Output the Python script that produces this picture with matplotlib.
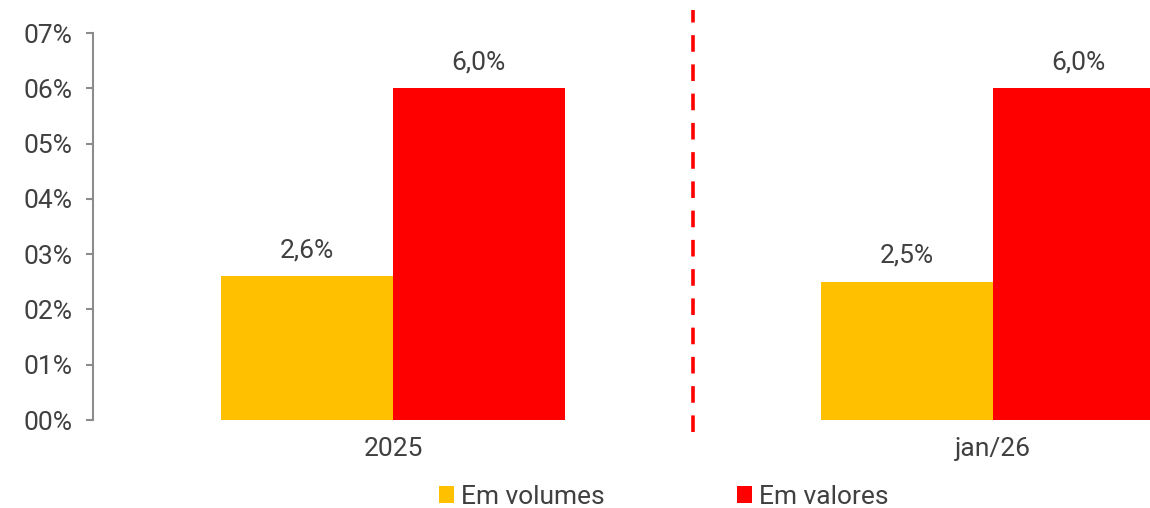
import matplotlib.pyplot as plt
import numpy as np
from matplotlib.patches import Patch
from matplotlib.ticker import FuncFormatter, MultipleLocator

plt.rcParams["font.family"] = ["Roboto", "DejaVu Sans"]

# -----------------------------------------------------------------------------
# Data
# -----------------------------------------------------------------------------
categories = ["2025", "jan/26"]
series_names = ["Em volumes", "Em valores"]
volumes = [2.6, 2.5]
valores = [6.0, 6.0]
volume_labels = ["2,6%", "2,5%"]
valor_labels = ["6,0%", "6,0%"]

YELLOW = "#FFC000"
RED = "#FF0000"
TEXT = "#404040"
SPINE = "#8c8c8c"
FS = 19

fig = plt.figure(figsize=(11.5, 5.08), dpi=100)
ax = fig.add_axes([0.0809, 0.1732, 0.9191, 0.7618])

x = np.arange(len(categories))
w = 0.286
b1 = ax.bar(x - w / 2, volumes, width=w, color=YELLOW, zorder=2)
b2 = ax.bar(x + w / 2, valores, width=w, color=RED, zorder=2)

ax.bar_label(b1, labels=volume_labels, padding=10, fontsize=FS, color=TEXT)
ax.bar_label(b2, labels=valor_labels, padding=10, fontsize=FS, color=TEXT)

# dashed separator between periods, runs past the axes
ax.plot([0.5, 0.5], [-0.22, 7.42], color=RED, linestyle=(0, (4.6, 3.5)), linewidth=2.6,
        clip_on=False, zorder=3)

ax.set_xlim(-0.5, 1.262)
ax.set_ylim(0, 7)
ax.yaxis.set_major_locator(MultipleLocator(1))
ax.yaxis.set_major_formatter(FuncFormatter(lambda v, _: f"{int(round(v)):02d}%"))
ax.set_xticks(x)
ax.set_xticklabels(categories)

for side in ["top", "right", "bottom"]:
    ax.spines[side].set_visible(False)
ax.spines["left"].set_color(SPINE)
ax.spines["left"].set_linewidth(1.5)

ax.tick_params(axis="y", direction="out", length=5, width=1.5, color=SPINE,
               labelsize=FS, labelcolor=TEXT, pad=10)
ax.tick_params(axis="x", length=0, labelsize=FS, labelcolor=TEXT, pad=12)

handles = [Patch(facecolor=YELLOW), Patch(facecolor=RED)]
fig.legend(handles, series_names, loc="center", bbox_to_anchor=(0.577, 0.022), ncol=2,
           frameon=False, fontsize=FS, labelcolor=TEXT, handlelength=0.57, handleheight=0.57,
           handletextpad=0.27, columnspacing=5.0, borderpad=0)

fig.savefig("out.png", dpi=100)
